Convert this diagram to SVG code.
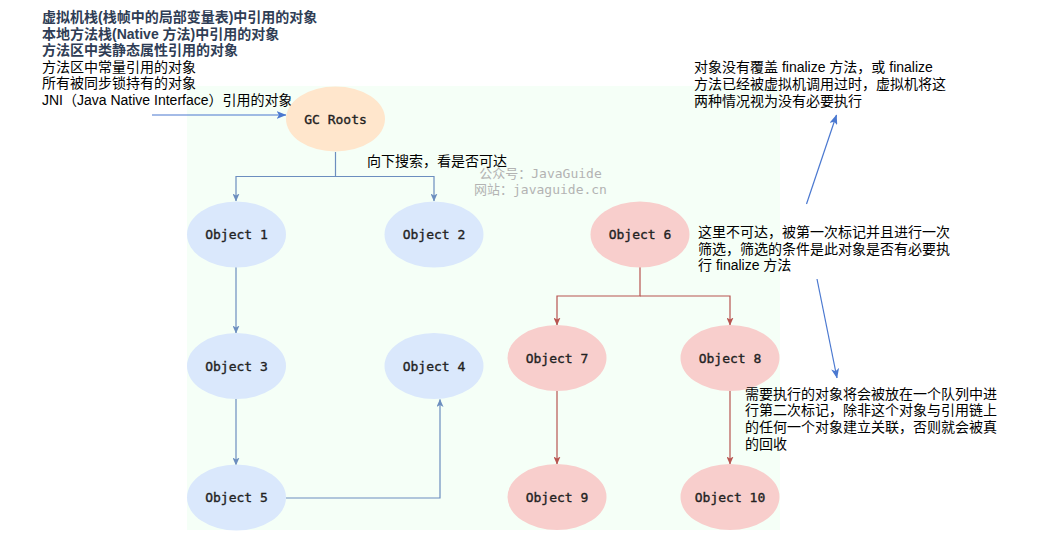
<svg xmlns="http://www.w3.org/2000/svg" width="1050" height="559" viewBox="0 0 1050 559">
<style>
.bg{fill:#f5fff7}
.blue{fill:#dae8fc}
.red{fill:#f8cecc}
.orange{fill:#ffe6cc}
.lbl{font-family:"DejaVu Sans Mono","Liberation Mono",monospace;font-size:13px;fill:#222;stroke:#222;stroke-width:0.35;text-anchor:middle}
.note{font-family:"Liberation Sans","Noto Sans CJK SC",sans-serif;font-size:14px;fill:#000}
.strong{font-weight:bold;fill:#2f3d55}
.wm{font-family:"DejaVu Sans Mono","Noto Sans CJK SC",monospace;font-size:13px;fill:#b3b3b3;text-anchor:middle}
.cb{fill:none;stroke:#6c8ebf;stroke-width:1.2}
.cr{fill:none;stroke:#b85450;stroke-width:1.2}
.cx{fill:none;stroke:#4a78d0;stroke-width:1.2}
</style>
<defs>
<marker id="ab" markerWidth="8" markerHeight="7" refX="7.5" refY="3.5" orient="auto" markerUnits="userSpaceOnUse"><path d="M0,0 L8,3.5 L0,7 L2,3.5 Z" fill="#6c8ebf"/></marker>
<marker id="ar" markerWidth="8" markerHeight="7" refX="7.5" refY="3.5" orient="auto" markerUnits="userSpaceOnUse"><path d="M0,0 L8,3.5 L0,7 L2,3.5 Z" fill="#b85450"/></marker>
<marker id="ax" markerWidth="10" markerHeight="8" refX="9.5" refY="4" orient="auto" markerUnits="userSpaceOnUse"><path d="M0,0 L10,4 L0,8 L2.5,4 Z" fill="#4a78d0"/></marker>
</defs>
<rect class="bg" x="187" y="86" width="593" height="444"/>

<g id="roots-text">
<text class="note strong" x="42" y="22">虚拟机栈(栈帧中的局部变量表)中引用的对象</text>
<text class="note strong" x="42" y="38.5">本地方法栈(Native 方法)中引用的对象</text>
<text class="note strong" x="42" y="55">方法区中类静态属性引用的对象</text>
<text class="note" x="42" y="71.5">方法区中常量引用的对象</text>
<text class="note" x="42" y="88">所有被同步锁持有的对象</text>
<text class="note" x="42" y="104.5">JNI（Java Native Interface）引用的对象</text>
</g>

<g id="connectors">
<path class="cx" d="M152,115 H286" marker-end="url(#ax)"/>
<path class="cb" d="M335.5,152 V176.5 H236 V201" marker-end="url(#ab)"/>
<path class="cb" d="M335.5,176.5 H434 V201" marker-end="url(#ab)"/>
<path class="cb" d="M236,267 V333" marker-end="url(#ab)"/>
<path class="cb" d="M236,399 V465" marker-end="url(#ab)"/>
<path class="cb" d="M286,498 H440 V399.5" marker-end="url(#ab)"/>
<path class="cr" d="M640,267 V296 H557 V325" marker-end="url(#ar)"/>
<path class="cr" d="M640,296 H730 V325" marker-end="url(#ar)"/>
<path class="cr" d="M557,391 V464" marker-end="url(#ar)"/>
<path class="cr" d="M730,391 V464" marker-end="url(#ar)"/>
<path class="cx" d="M806.5,204 L836.5,115" marker-end="url(#ax)"/>
<path class="cx" d="M817,279 L837,378" marker-end="url(#ax)"/>
</g>

<g id="gc-roots"><ellipse class="orange" cx="335.5" cy="119" rx="49.5" ry="32.5"/><text class="lbl" x="335.5" y="123.5">GC Roots</text></g>
<g id="object-1"><ellipse class="blue" cx="236.5" cy="234.5" rx="49.5" ry="33"/><text class="lbl" x="236.5" y="239">Object 1</text></g>
<g id="object-2"><ellipse class="blue" cx="434" cy="234.5" rx="49.5" ry="33"/><text class="lbl" x="434" y="239">Object 2</text></g>
<g id="object-3"><ellipse class="blue" cx="236.5" cy="366" rx="49.5" ry="33"/><text class="lbl" x="236.5" y="370.5">Object 3</text></g>
<g id="object-4"><ellipse class="blue" cx="434" cy="366" rx="49.5" ry="33"/><text class="lbl" x="434" y="370.5">Object 4</text></g>
<g id="object-5"><ellipse class="blue" cx="236.5" cy="497.5" rx="49.5" ry="33"/><text class="lbl" x="236.5" y="502">Object 5</text></g>
<g id="object-6"><ellipse class="red" cx="640" cy="234.5" rx="49.5" ry="33"/><text class="lbl" x="640" y="239">Object 6</text></g>
<g id="object-7"><ellipse class="red" cx="557" cy="358" rx="49.5" ry="33"/><text class="lbl" x="557" y="362.5">Object 7</text></g>
<g id="object-8"><ellipse class="red" cx="730" cy="358" rx="49.5" ry="33"/><text class="lbl" x="730" y="362.5">Object 8</text></g>
<g id="object-9"><ellipse class="red" cx="557" cy="497" rx="49.5" ry="33"/><text class="lbl" x="557" y="501.5">Object 9</text></g>
<g id="object-10"><ellipse class="red" cx="730" cy="497" rx="49.5" ry="33"/><text class="lbl" x="730" y="501.5">Object 10</text></g>

<g id="search-label"><text class="note" x="367" y="166.3">向下搜索，看是否可达</text></g>
<g id="watermark">
<text class="wm" x="540.5" y="177.5">公众号：JavaGuide</text>
<text class="wm" x="540.5" y="194">网站：javaguide.cn</text>
</g>

<g id="note-no-finalize">
<text class="note" x="694" y="72">对象没有覆盖 finalize 方法，或 finalize</text>
<text class="note" x="694" y="89">方法已经被虚拟机调用过时，虚拟机将这</text>
<text class="note" x="694" y="106">两种情况视为没有必要执行</text>
</g>
<g id="note-first-mark">
<text class="note" x="698" y="237">这里不可达，被第一次标记并且进行一次</text>
<text class="note" x="698" y="253.7">筛选，筛选的条件是此对象是否有必要执</text>
<text class="note" x="698" y="270.4">行 finalize 方法</text>
</g>
<g id="note-second-mark">
<text class="note" x="745" y="398.6">需要执行的对象将会被放在一个队列中进</text>
<text class="note" x="745" y="415.3">行第二次标记，除非这个对象与引用链上</text>
<text class="note" x="745" y="432">的任何一个对象建立关联，否则就会被真</text>
<text class="note" x="745" y="448.6">的回收</text>
</g>
</svg>
